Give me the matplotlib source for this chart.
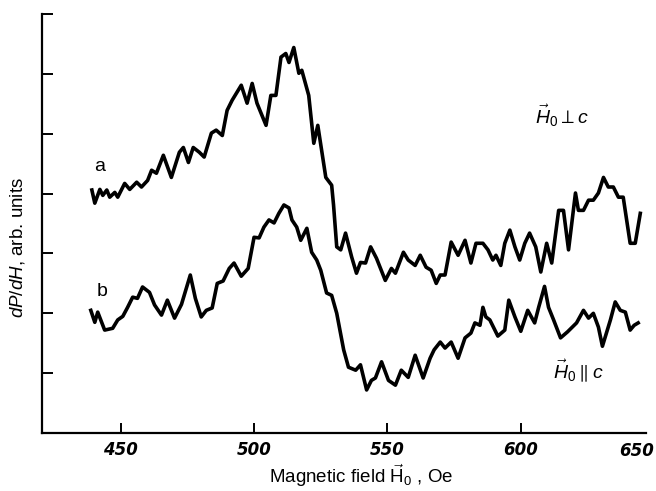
import numpy as np
import matplotlib
matplotlib.use('Agg')
import matplotlib.pyplot as plt

plt.rcParams['font.family'] = ['Liberation Sans', 'DejaVu Sans']
plt.rcParams['mathtext.fontset'] = 'custom'
plt.rcParams['mathtext.rm'] = 'Liberation Sans'
plt.rcParams['mathtext.it'] = 'Liberation Sans:italic'
plt.rcParams['mathtext.bf'] = 'Liberation Sans:bold'

# curve a: H0 perpendicular to c (field in Oe, signal in arb. units)
field_a = [439.2, 440.3, 442.2, 443.3, 444.8, 445.9, 447.8, 448.9, 451.5, 453.4,
           456.0, 457.8, 460.1, 461.6, 463.4, 466.0, 469.0, 472.0, 473.5, 475.4,
           477.2, 479.5, 481.3, 484.0, 485.8, 488.1, 489.9, 491.8, 495.2, 497.4,
           499.3, 501.1, 504.5, 506.3, 508.2, 510.1, 511.9, 513.1, 514.9, 516.8,
           517.9, 520.5, 522.4, 523.9, 526.9, 529.1, 529.8, 531.0, 532.5, 534.3,
           536.6, 538.4, 539.9, 541.8, 543.7, 545.9, 549.2, 551.5, 553.0, 556.0,
           557.8, 560.4, 562.3, 564.5, 566.4, 568.3, 569.8, 571.6, 573.9, 576.5,
           579.1, 581.3, 583.2, 585.8, 587.7, 589.5, 590.7, 592.5, 594.0, 595.9,
           597.8, 599.6, 601.5, 603.3, 605.6, 607.5, 609.7, 611.6, 614.2, 616.0,
           617.9, 620.5, 621.6, 623.5, 625.4, 627.2, 629.1, 631.0, 632.8, 634.7,
           636.6, 638.4, 641.0, 642.9, 644.8]
signal_a = [4.06, 3.84, 4.07, 3.97, 4.06, 3.94, 4.02, 3.94, 4.17, 4.07,
            4.19, 4.11, 4.22, 4.39, 4.34, 4.64, 4.27, 4.69, 4.77, 4.52,
            4.77, 4.69, 4.61, 5.01, 5.06, 4.97, 5.39, 5.56, 5.81, 5.51,
            5.84, 5.51, 5.14, 5.64, 5.64, 6.28, 6.34, 6.19, 6.44, 6.01,
            6.06, 5.64, 4.84, 5.14, 4.27, 4.14, 3.81, 3.11, 3.06, 3.34,
            2.94, 2.67, 2.85, 2.84, 3.11, 2.92, 2.55, 2.75, 2.67, 3.02,
            2.89, 2.80, 2.97, 2.77, 2.72, 2.50, 2.64, 2.64, 3.19, 2.97,
            3.22, 2.84, 3.17, 3.17, 3.06, 2.89, 2.97, 2.80, 3.17, 3.39,
            3.11, 2.89, 3.17, 3.34, 3.11, 2.69, 3.17, 2.84, 3.72, 3.72,
            3.06, 4.01, 3.72, 3.72, 3.89, 3.89, 4.01, 4.27, 4.11, 4.11,
            3.94, 3.94, 3.17, 3.17, 3.67]

# curve b: H0 parallel to c
field_b = [438.8, 440.3, 441.4, 444.0, 447.0, 448.9, 450.8, 452.6, 454.5, 456.3,
           458.2, 460.8, 462.7, 465.3, 467.5, 470.2, 472.8, 476.1, 478.0, 480.2,
           482.1, 484.3, 486.2, 488.4, 490.7, 492.5, 495.2, 497.8, 500.0, 501.9,
           503.7, 505.6, 507.5, 509.3, 511.2, 513.1, 514.2, 516.0, 517.5, 519.8,
           521.6, 523.5, 525.0, 527.2, 529.1, 531.0, 533.6, 535.4, 538.1, 539.9,
           542.2, 544.0, 545.5, 547.8, 550.4, 553.0, 555.2, 557.8, 560.4, 563.4,
           566.0, 567.5, 569.8, 571.6, 573.9, 576.5, 579.1, 581.3, 582.8, 584.7,
           585.8, 586.9, 588.4, 591.4, 594.0, 595.5, 597.8, 600.0, 602.6, 605.2,
           606.7, 608.9, 610.4, 612.3, 614.9, 617.5, 620.9, 623.5, 625.4, 627.2,
           629.1, 630.6, 633.6, 635.4, 637.3, 639.2, 641.0, 642.5, 644.0]
signal_b = [2.05, 1.85, 2.02, 1.72, 1.75, 1.89, 1.95, 2.10, 2.27, 2.25,
            2.44, 2.35, 2.14, 1.97, 2.22, 1.92, 2.15, 2.64, 2.25, 1.94,
            2.05, 2.09, 2.50, 2.54, 2.75, 2.84, 2.62, 2.75, 3.27, 3.26,
            3.44, 3.56, 3.51, 3.67, 3.81, 3.76, 3.56, 3.44, 3.22, 3.42,
            3.02, 2.89, 2.72, 2.34, 2.30, 2.00, 1.39, 1.10, 1.05, 1.14,
            0.72, 0.88, 0.92, 1.19, 0.88, 0.80, 1.05, 0.93, 1.30, 0.92,
            1.25, 1.39, 1.52, 1.42, 1.52, 1.25, 1.59, 1.67, 1.84, 1.80,
            2.10, 1.94, 1.89, 1.62, 1.72, 2.22, 1.94, 1.70, 2.05, 1.84,
            2.10, 2.45, 2.10, 1.89, 1.59, 1.69, 1.84, 2.05, 1.92, 2.00,
            1.77, 1.45, 1.89, 2.19, 2.05, 2.02, 1.72, 1.80, 1.84]

x_ticks = [450, 500, 550, 600]
y_ticks = [1, 2, 3, 4, 5, 6, 7]

fig = plt.figure(figsize=(6.56, 4.91), dpi=100)
ax = fig.add_axes([0.064, 0.118, 0.921, 0.8535])

ax.plot(field_a, signal_a, color='black', lw=2.6, solid_joinstyle='round')
ax.plot(field_b, signal_b, color='black', lw=2.6, solid_joinstyle='round')

ax.set_xlim(420.5, 647)
ax.set_ylim(0, 7)

for s in ['top', 'right']:
    ax.spines[s].set_visible(False)
for s in ['left', 'bottom']:
    ax.spines[s].set_linewidth(1.6)

tick_font = dict(fontfamily='DejaVu Sans', fontstyle='italic', fontweight='bold', fontsize=12)
ax.set_xticks(x_ticks)
ax.set_xticklabels([str(t) for t in x_ticks], **tick_font)
ax.set_yticks(y_ticks)
ax.set_yticklabels([])
ax.tick_params(axis='x', direction='in', length=7, width=1.4, pad=6)
ax.tick_params(axis='y', direction='in', length=8, width=1.4)
ax.text(0.985, -0.043, '650', transform=ax.transAxes, ha='center', va='center', **tick_font)

# curve labels
ax.text(442, 4.45, 'a', fontsize=14, ha='center', va='center')
ax.text(443, 2.37, 'b', fontsize=14, ha='center', va='center')
ax.text(615.5, 5.3, r'$\vec{H}_0\perp c$', fontsize=14, ha='center', va='center')
ax.text(621.5, 1.05, r'$\vec{H}_0\parallel c$', fontsize=14, ha='center', va='center')

fig.text(0.026, 0.495, r'$dP/dH$, arb. units', rotation=90, fontsize=13.5,
         ha='center', va='center')
fig.text(0.55, 0.0163, r'Magnetic field $\vec{\mathrm{H}}_0$ , Oe', fontsize=13.5,
         ha='center', va='baseline')

plt.savefig('out.png', dpi=100)
